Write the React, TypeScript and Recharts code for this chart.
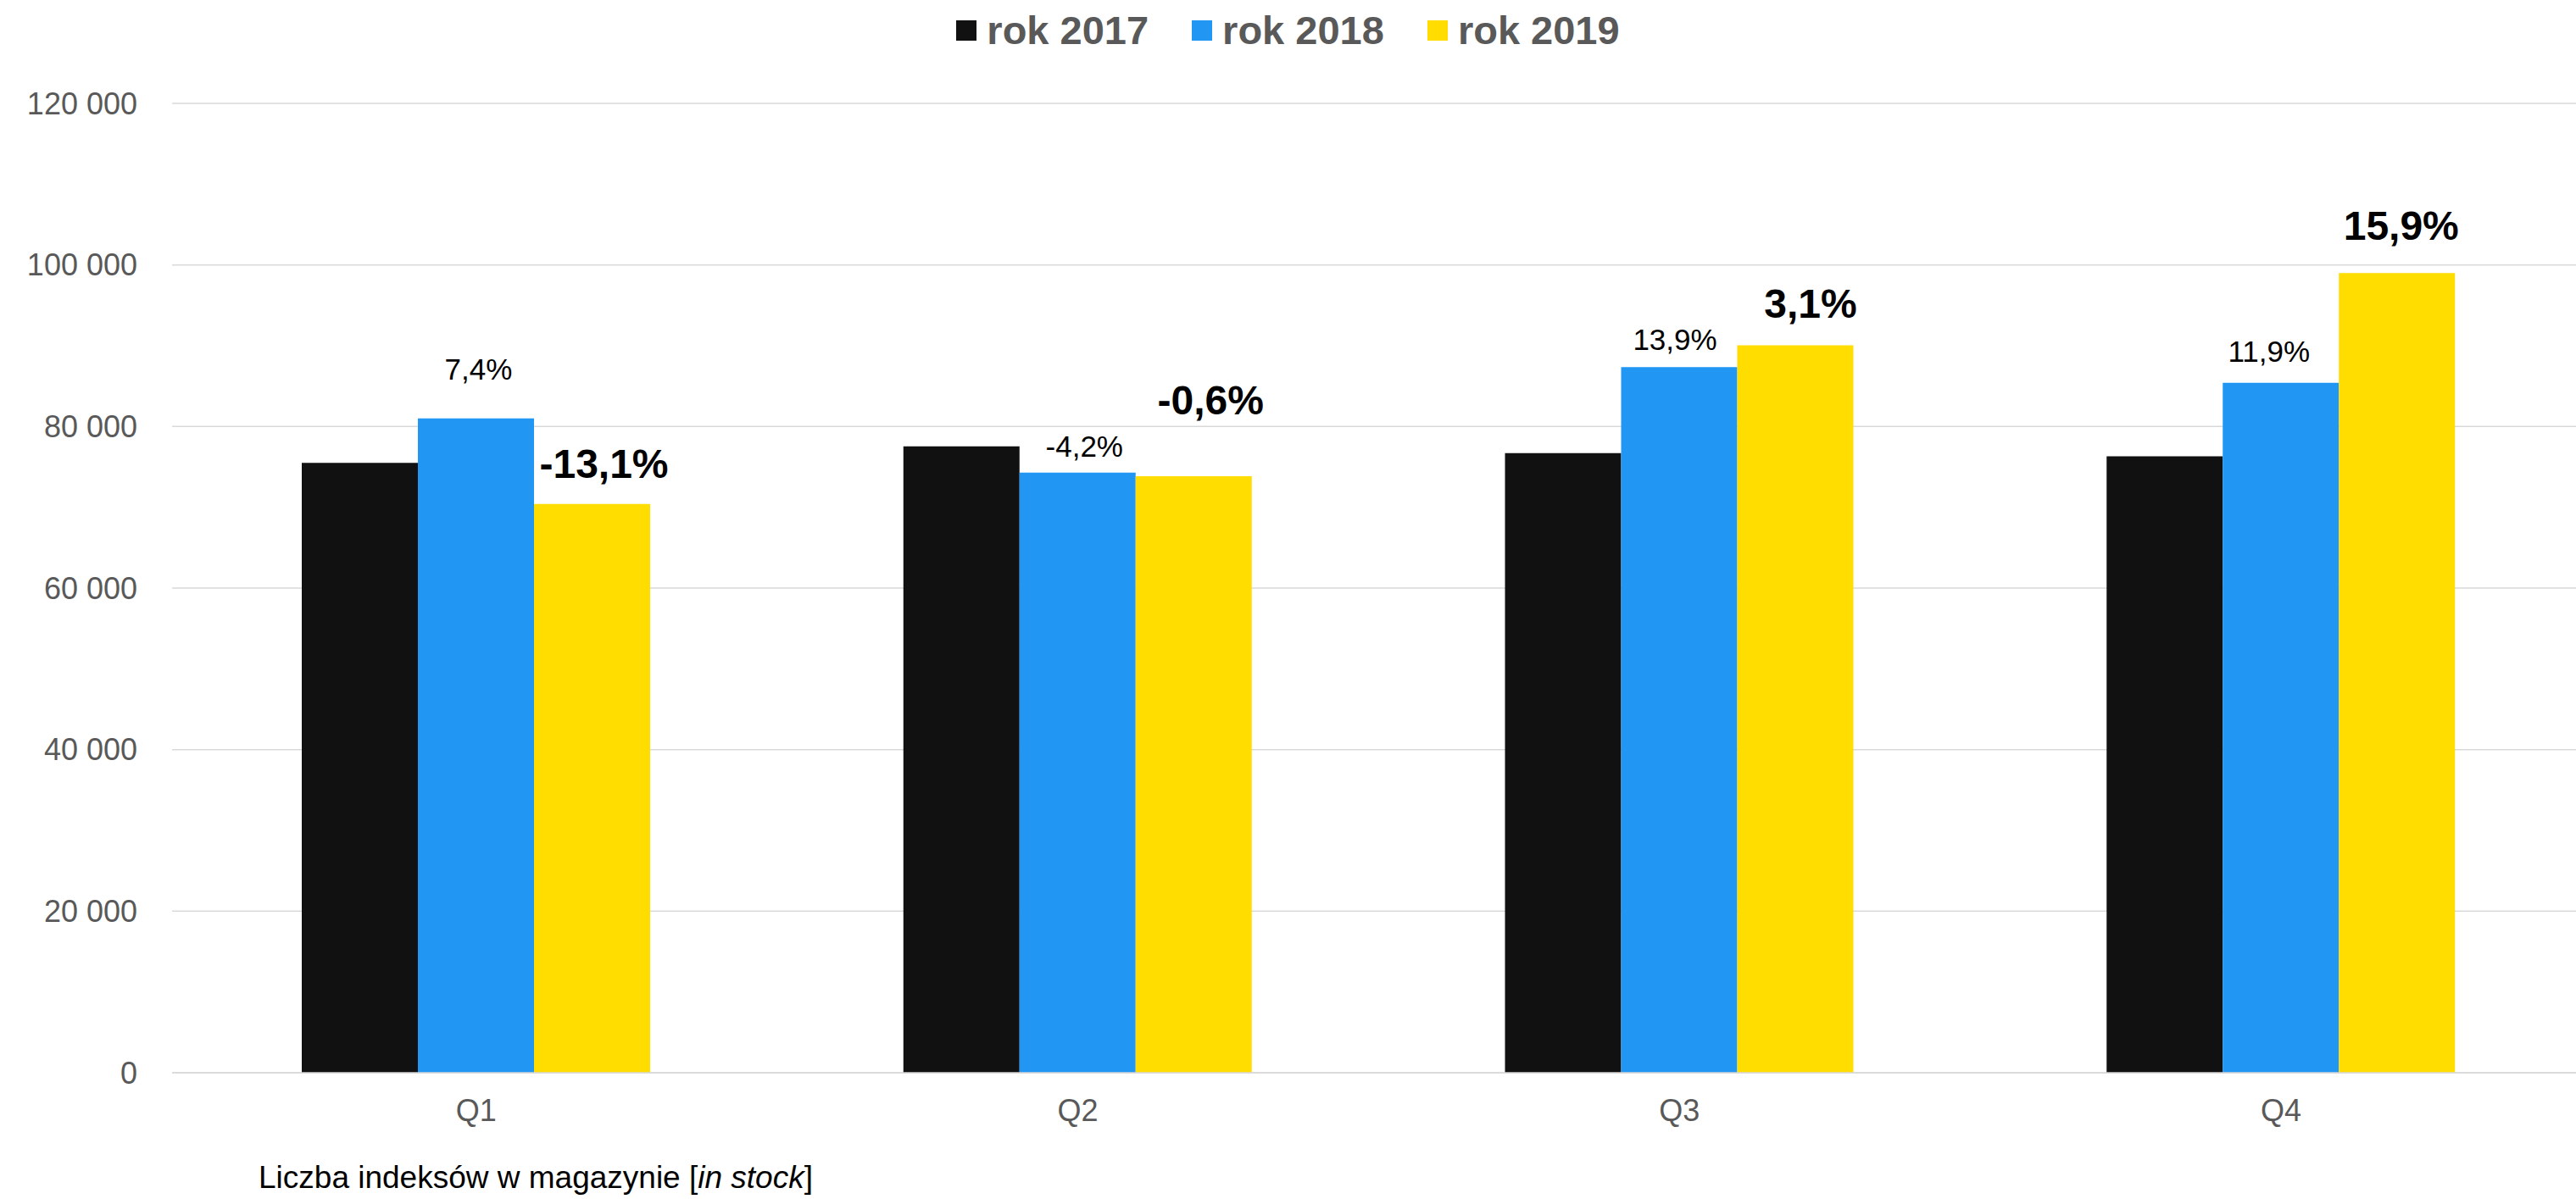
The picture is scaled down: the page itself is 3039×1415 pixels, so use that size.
import React from 'react';
import { BarChart, Bar, XAxis, YAxis, CartesianGrid, LabelList } from 'recharts';

const quarters = ['Q1', 'Q2', 'Q3', 'Q4'];
const stock2017 = [75500, 77550, 76700, 76300];
const stock2018 = [81000, 74300, 87350, 85400];
const stock2019 = [70400, 73850, 90050, 99000];
const change2018 = ['7,4%', '-4,2%', '13,9%', '11,9%'];
const change2019 = ['-13,1%', '-0,6%', '3,1%', '15,9%'];
const yTicks = [0, 20000, 40000, 60000, 80000, 100000, 120000];

const FONT = '"Liberation Sans", Arial, sans-serif';
const BLACK = '#111111';
const BLUE = '#2196F3';
const YELLOW = '#FFDD00';

const legendItems = [
  { name: 'rok 2017', color: BLACK },
  { name: 'rok 2018', color: BLUE },
  { name: 'rok 2019', color: YELLOW },
];

const chartData = quarters.map((q, i) => ({
  quarter: q,
  y2017: stock2017[i],
  y2018: stock2018[i],
  y2019: stock2019[i],
}));

// label placement tweaks, as in the original sheet
const lift2018 = [46, 19, 20, 25];
const shift2018 = [3, 8, -5, -14];
const lift2019 = [31, 73, 33, 39];
const shift2019 = [14, 20, 18, 5];

const formatTick = (v: number) =>
  v === 0 ? '0' : `${Math.floor(v / 1000)} ${String(v % 1000).padStart(3, '0')}`;

const makeLabel = (texts: string[], lift: number[], shift: number[], bold: boolean) =>
  (props: any) => {
    const { x, y, width, index } = props;
    return (
      <text
        x={Number(x) + Number(width) / 2 + shift[index]}
        y={Number(y) - lift[index]}
        textAnchor="middle"
        fill="#000"
        fontFamily={FONT}
        fontSize={bold ? 48 : 35}
        fontWeight={bold ? 'bold' : 'normal'}
      >
        {texts[index]}
      </text>
    );
  };

const App: React.FC = () => {
  return (
    <div
      style={{
        position: 'absolute',
        left: 0,
        top: 0,
        width: 3039,
        height: 1415,
        overflow: 'hidden',
        background: '#fff',
        fontFamily: FONT,
      }}
    >
      <div
        style={{
          position: 'absolute',
          top: 10,
          left: 0,
          width: 3039,
          display: 'flex',
          justifyContent: 'center',
          gap: 51,
        }}
      >
        {legendItems.map((item) => (
          <div key={item.name} style={{ display: 'flex', alignItems: 'center', gap: 12 }}>
            <div style={{ width: 24, height: 24, backgroundColor: item.color }} />
            <span style={{ fontSize: 47, fontWeight: 'bold', color: '#595959', lineHeight: '52px' }}>{item.name}</span>
          </div>
        ))}
      </div>

      <BarChart
        width={3046}
        height={1415}
        data={chartData}
        margin={{ top: 122, right: 0, bottom: 89, left: 0 }}
        barGap={0}
      >
        <CartesianGrid vertical={false} stroke="#d9d9d9" strokeWidth={1.5} />
        <XAxis
          dataKey="quarter"
          height={60}
          padding={{ left: 4, right: 0 }}
          tickLine={false}
          tickSize={0}
          tickMargin={31}
          axisLine={{ stroke: '#d9d9d9', strokeWidth: 1.5 }}
          tick={{ fill: '#595959', fontSize: 36, fontFamily: FONT }}
        />
        <YAxis
          width={203}
          domain={[0, 120000]}
          ticks={yTicks}
          tickFormatter={formatTick}
          axisLine={false}
          tickLine={false}
          tickSize={0}
          tickMargin={41}
          tick={{ fill: '#595959', fontSize: 36, fontFamily: FONT }}
        />
        <Bar dataKey="y2017" fill={BLACK} barSize={137} isAnimationActive={false} />
        <Bar dataKey="y2018" fill={BLUE} barSize={137} isAnimationActive={false}>
          <LabelList dataKey="y2018" content={makeLabel(change2018, lift2018, shift2018, false)} />
        </Bar>
        <Bar dataKey="y2019" fill={YELLOW} barSize={137} isAnimationActive={false}>
          <LabelList dataKey="y2019" content={makeLabel(change2019, lift2019, shift2019, true)} />
        </Bar>
      </BarChart>

      <div style={{ position: 'absolute', left: 305, top: 1369, fontSize: 37, color: '#000', lineHeight: '42px' }}>
        Liczba indeksów w magazynie [<i>in stock</i>]
      </div>
    </div>
  );
};

export default App;
